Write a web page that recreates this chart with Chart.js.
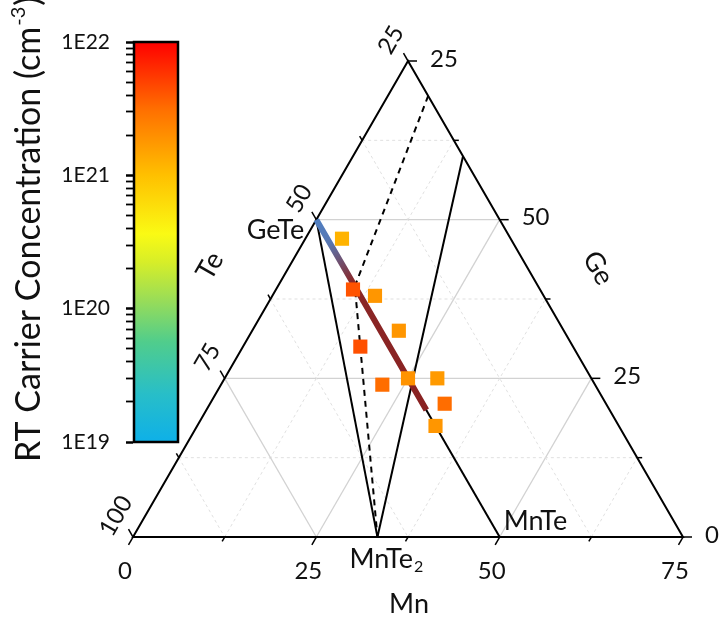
<!DOCTYPE html>
<html>
<head>
<meta charset="utf-8">
<script src="https://cdn.jsdelivr.net/npm/chart.js@4.4.0/dist/chart.umd.min.js"></script>
<style>
  html, body { margin: 0; padding: 0; background: #fff; }
</style>
</head>
<body>
<canvas id="myChart" width="722" height="618"></canvas>
<script>
// measured samples, composition in at.% (Te = 100 - Mn - Ge)
const sampleMn = [5, 10.5, 14, 20, 16, 22, 25, 29, 32, 32.5];
const sampleGe = [47, 39, 38, 32.5, 30, 24, 25, 25, 21, 17.5];
// RT carrier concentration, cm^-3
const sampleCarrier = [1.2e21, 4.2e21, 1.8e21, 1.8e21, 4.3e21, 3.2e21, 1.9e21, 1.7e21, 3.2e21, 1.8e21];

// phases
const phaseNames = ['GeTe', 'MnTe', 'MnTe2'];
const phaseMn = [0, 50, 100 / 3];
const phaseGe = [50, 0, 0];

// GeTe -> Mn-rich solid solution line (Te = 50)
const solMn = [0, 10.5, 30];
const solGe = [50, 39.5, 20];

// thin tie lines
const tieMn = [[0, 100 / 3], [0, 50], [100 / 3, 15]];
const tieGe = [[50, 0], [50, 0], [0, 60]];
// dashed boundary
const dashMn = [5.5, 10.5, 100 / 3];
const dashGe = [69.5, 39.5, 0];

// axes
const gridSteps = [12.5, 25, 37.5, 50, 62.5];
const tickSteps = [0, 12.5, 25, 37.5, 50, 62.5, 75];
const mnTickValues = [0, 25, 50, 75];
const mnTickLabels = ['0', '25', '50', '75'];
const geTickValues = [0, 25, 50, 75];
const geTickLabels = ['0', '25', '50', '25'];
const teTickValues = [100, 75, 50, 25];
const teTickLabels = ['100', '75', '50', '25'];

// colour bar
const cbTicks = [1e19, 1e20, 1e21, 1e22];
const cmapStops = [
    [0.00, [14, 176, 232]],
    [0.12, [40, 190, 200]],
    [0.25, [80, 205, 140]],
    [0.35, [150, 220, 90]],
    [0.45, [215, 238, 40]],
    [0.52, [250, 250, 20]],
    [0.667, [255, 192, 0]],
    [0.83, [255, 112, 0]],
    [1.00, [255, 0, 0]],
];

const FONT = 'Lato, "Liberation Sans", sans-serif';

const cmap = (c) => {
    const t = Math.min(1, Math.max(0, (Math.log10(c) - 19) / 3));
    for (let i = 1; i < cmapStops.length; i++) {
        const [t1, c1] = cmapStops[i];
        const [t0, c0] = cmapStops[i - 1];
        if (t <= t1) {
            const f = (t - t0) / (t1 - t0);
            const rgb = c0.map((v, k) => Math.round(v + (c1[k] - v) * f));
            return `rgb(${rgb.join(',')})`;
        }
    }
    return 'rgb(255,0,0)';
};

// ternary (Mn, Ge) -> cartesian
const toXY = (mn, ge) => ({ x: mn + ge / 2, y: ge });

const ternaryPlugin = {
    id: 'ternary',
    beforeDatasetsDraw(chart) {
        const { ctx, scales: { x, y, cb }, chartArea } = chart;
        const P = (mn, ge) => [x.getPixelForValue(mn + ge / 2), y.getPixelForValue(ge)];
        const seg = (a, b) => {
            ctx.beginPath();
            ctx.moveTo(a[0], a[1]);
            ctx.lineTo(b[0], b[1]);
            ctx.stroke();
        };
        ctx.save();

        // grid
        gridSteps.forEach((v) => {
            const major = v % 25 === 0;
            ctx.strokeStyle = major ? '#d2d2d2' : '#e0e0e0';
            ctx.lineWidth = major ? 1.3 : 1;
            ctx.setLineDash(major ? [] : [3, 3]);
            seg(P(v, 0), P(v, 75 - v));
            seg(P(0, v), P(75 - v, v));
            seg(P(0, v), P(v, 0));
        });
        ctx.setLineDash([]);

        // triangle
        ctx.strokeStyle = '#000';
        ctx.lineWidth = 2;
        ctx.beginPath();
        ctx.moveTo(...P(0, 0));
        ctx.lineTo(...P(75, 0));
        ctx.lineTo(...P(0, 75));
        ctx.closePath();
        ctx.stroke();

        // ticks
        ctx.lineWidth = 1.5;
        tickSteps.forEach((v) => {
            const len = v % 25 === 0 ? 9 : 5;
            let p = P(v, 0);
            seg(p, [p[0] - 0.5 * len, p[1] + 0.866 * len]);
            p = P(75 - v, v);
            seg(p, [p[0] + len, p[1]]);
            p = P(0, 75 - v);
            seg(p, [p[0] - 0.5 * len, p[1] - 0.866 * len]);
        });

        // colour bar
        const yTop = cb.getPixelForValue(cbTicks[cbTicks.length - 1]);
        const yBot = cb.getPixelForValue(cbTicks[0]);
        const xl = chartArea.left + 1, w = 44;
        const g = ctx.createLinearGradient(0, yBot, 0, yTop);
        cmapStops.forEach(([t, c]) => g.addColorStop(t, `rgb(${c.join(',')})`));
        ctx.fillStyle = g;
        ctx.fillRect(xl, yTop, w, yBot - yTop);
        ctx.lineWidth = 2.5;
        ctx.strokeStyle = '#000';
        ctx.strokeRect(xl, yTop, w, yBot - yTop);
        ctx.restore();
    },
    afterDraw(chart) {
        const { ctx, scales: { x, y } } = chart;
        const P = (mn, ge) => [x.getPixelForValue(mn + ge / 2), y.getPixelForValue(ge)];
        ctx.save();
        ctx.fillStyle = '#111';
        ctx.font = `24px ${FONT}`;
        ctx.textBaseline = 'middle';

        // Mn axis
        ctx.textAlign = 'center';
        mnTickValues.forEach((v, i) => {
            const p = P(v, 0);
            ctx.fillText(mnTickLabels[i], p[0] - 8, p[1] + 34);
        });
        // Ge axis
        ctx.textAlign = 'left';
        geTickValues.forEach((v, i) => {
            const p = P(75 - v, v);
            ctx.fillText(geTickLabels[i], p[0] + 22, p[1] - 2);
        });
        // Te axis
        ctx.textAlign = 'center';
        teTickValues.forEach((v, i) => {
            const p = P(0, 100 - v);
            ctx.save();
            ctx.translate(p[0] - 17, p[1] - 21);
            ctx.rotate(-Math.PI / 3);
            ctx.fillText(teTickLabels[i], 0, 0);
            ctx.restore();
        });

        // axis titles
        ctx.font = `27px ${FONT}`;
        ctx.fillText('Mn', 409, 604);
        ctx.save();
        ctx.translate(210, 266);
        ctx.rotate(-Math.PI / 3);
        ctx.fillText('Te', 0, 0);
        ctx.restore();
        ctx.save();
        ctx.translate(598, 268);
        ctx.rotate(Math.PI / 3);
        ctx.fillText('Ge', 0, 0);
        ctx.restore();

        // phase labels
        let p = P(phaseMn[0], phaseGe[0]);
        ctx.textAlign = 'right';
        ctx.fillText(phaseNames[0], p[0] - 12, p[1] + 11);
        p = P(phaseMn[1], phaseGe[1]);
        ctx.textAlign = 'left';
        ctx.fillText(phaseNames[1], p[0] + 4, p[1] - 16);
        p = P(phaseMn[2], phaseGe[2]);
        ctx.textAlign = 'left';
        const base = phaseNames[2].slice(0, -1);
        ctx.fillText(base, p[0] - 28, p[1] + 22);
        const bw = ctx.measureText(base).width;
        ctx.font = `16px ${FONT}`;
        ctx.fillText(phaseNames[2].slice(-1), p[0] - 28 + bw + 1, p[1] + 30);

        // colour bar title
        ctx.save();
        ctx.translate(40, 462);
        ctx.rotate(-Math.PI / 2);
        ctx.textBaseline = 'alphabetic';
        ctx.textAlign = 'left';
        ctx.font = `34px ${FONT}`;
        const t1 = 'RT Carrier Concentration (cm';
        ctx.fillText(t1, 0, 0);
        let off = ctx.measureText(t1).width;
        ctx.font = `20px ${FONT}`;
        ctx.fillText('-3', off + 1, -15);
        off += ctx.measureText('-3').width + 2;
        ctx.font = `34px ${FONT}`;
        ctx.fillText(')', off, 0);
        ctx.restore();

        ctx.restore();
    },
};

const lineSet = (mn, ge, extra) => Object.assign({
    data: mn.map((m, i) => toXY(m, ge[i])),
    showLine: true,
    pointRadius: 0,
    borderColor: '#000',
    borderWidth: 2,
    fill: false,
}, extra);

const datasets = [
    {
        data: sampleMn.map((m, i) => toXY(m, sampleGe[i])),
        pointStyle: 'rect',
        pointRadius: 10,
        borderWidth: 0,
        backgroundColor: sampleCarrier.map(cmap),
    },
    lineSet(solMn, solGe, {
        borderWidth: 6,
        borderColor: (c) => {
            const ch = c.chart;
            if (!ch.chartArea) return '#8a2424';
            const a = ch.scales.x, b = ch.scales.y;
            const n = solMn.length - 1;
            const g = ch.ctx.createLinearGradient(
                a.getPixelForValue(solMn[0] + solGe[0] / 2), b.getPixelForValue(solGe[0]),
                a.getPixelForValue(solMn[n] + solGe[n] / 2), b.getPixelForValue(solGe[n]));
            g.addColorStop(0, '#4f7fc2');
            g.addColorStop(0.12, '#5877b2');
            g.addColorStop(0.33, '#8a2626');
            g.addColorStop(1, '#892222');
            return g;
        },
    }),
    ...tieMn.map((mn, i) => lineSet(mn, tieGe[i])),
    lineSet(dashMn, dashGe, { borderDash: [6, 5] }),
];

const chart = new Chart('myChart', {
    type: 'scatter',
    data: { datasets },
    options: {
        responsive: false,
        animation: false,
        devicePixelRatio: 1,
        layout: { padding: { left: 10, right: 39, top: 42, bottom: 81 } },
        plugins: { legend: { display: false }, tooltip: { enabled: false } },
        scales: {
            x: { type: 'linear', display: false, min: 0, max: 75 },
            y: { type: 'linear', display: false, min: 0, max: 75 * 495 / 476 },
            cb: {
                type: 'logarithmic',
                axis: 'y',
                position: 'left',
                min: Math.pow(10, 22 - 3 * 495 / 400),
                max: 1e22,
                afterFit: (s) => { s.width = 123; },
                afterBuildTicks: (s) => {
                    const t = [];
                    for (let e = 19; e < 22; e++) {
                        for (let k = 1; k < 10; k++) t.push({ value: k * Math.pow(10, e) });
                    }
                    t.push({ value: 1e22 });
                    s.ticks = t;
                },
                border: { display: false },
                grid: {
                    drawOnChartArea: false,
                    tickLength: 7,
                    tickColor: '#000',
                    tickWidth: (c) => (c.tick && Math.abs(Math.log10(c.tick.value) - Math.round(Math.log10(c.tick.value))) < 1e-6 ? 2.5 : 1.8),
                },
                ticks: {
                    autoSkip: false,
                    padding: 16,
                    color: '#111',
                    font: { family: FONT, size: 21 },
                    callback: (v) => {
                        const e = Math.log10(v);
                        return Math.abs(e - Math.round(e)) < 1e-6 ? '1E' + Math.round(e) : '';
                    },
                },
            },
        },
    },
    plugins: [ternaryPlugin],
});
</script>
</body>
</html>
